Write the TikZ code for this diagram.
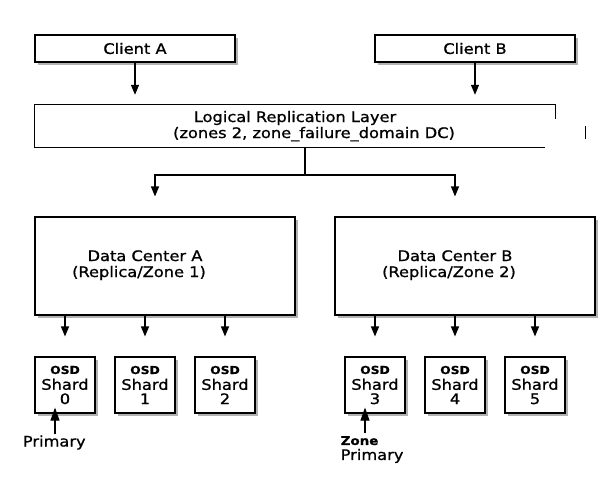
\documentclass[tikz,border=0pt]{standalone}
\usepackage{fontspec}
\setmainfont{DejaVu Sans}[FakeStretch=1.12, FakeBold=1]
\usetikzlibrary{arrows.meta, positioning, calc, shadows}
\newcommand{\tagfont}{\fontsize{11}{11}\selectfont\bfseries}

\begin{document}
\begin{tikzpicture}[
    x=1pt, y=-1pt,
    every node/.style={font=\fontsize{14.5}{16}\selectfont, align=center, inner sep=0pt},
    box/.style={draw, line width=1.1pt, fill=white, drop shadow={shadow xshift=2.5pt, shadow yshift=-2.5pt, fill=black!30, opacity=1}},
    client/.style={box, minimum width=200pt, minimum height=27pt},
    center/.style={box, minimum width=260pt, minimum height=98pt},
    shard/.style={box, minimum width=60pt, minimum height=56pt, font=\fontsize{14.5}{14.3}\selectfont},
    arr/.style={-{Triangle[length=10pt, width=8pt]}, line width=1.1pt},
    uparr/.style={-{Triangle[length=13pt, width=9pt]}, line width=1.1pt},
    line/.style={line width=1.1pt}
]
\useasboundingbox (0,0) rectangle (610,490);

% clients
\node[client] (clienta) at (135,48.5) {Client A};
\node[client] (clientb) at (475,48.5) {Client B};

% replication layer
\node[minimum width=520pt, minimum height=42pt] (layer) at (295,126) {};
\node[anchor=base] (layertitle) at (295,122) {Logical Replication Layer};
\node[anchor=base] (layersub) at (314,138) {(zones 2, zone\_failure\_domain DC)};
\draw[line] ([yshift=-14pt]layer.north east) -- (layer.north east) -- (layer.north west)
    -- (layer.south west) -- ([xshift=-10pt]layer.south east);
\draw[line] ([xshift=30pt, yshift=-21pt]layer.north east) -- ([xshift=30pt, yshift=-34pt]layer.north east);

% data centers
\node[center] (dca) at (165,266) {};
\node[center] (dcb) at (465,266) {};
\node[anchor=base] (dcatitle) at (145,261) {Data Center A};
\node[anchor=base] (dcasub) at (139,277) {(Replica/Zone 1)};
\node[anchor=base] (dcbtitle) at (455,261) {Data Center B};
\node[anchor=base] (dcbsub) at (449,277) {(Replica/Zone 2)};

% shards
\node[shard] (shard0) at (65,385) {{\tagfont OSD}\\[1.5pt]Shard\\0};
\node[shard] (shard1) at (145,385) {{\tagfont OSD}\\[1.5pt]Shard\\1};
\node[shard] (shard2) at (225,385) {{\tagfont OSD}\\[1.5pt]Shard\\2};
\node[shard] (shard3) at (375,385) {{\tagfont OSD}\\[1.5pt]Shard\\3};
\node[shard] (shard4) at (455,385) {{\tagfont OSD}\\[1.5pt]Shard\\4};
\node[shard] (shard5) at (535,385) {{\tagfont OSD}\\[1.5pt]Shard\\5};

% primaries
\node[anchor=base west] (prim) at (22.7,446.5) {Primary};
\node[anchor=north west, align=left, font=\fontsize{14.5}{15}\selectfont] (zoneprim) at (340.5,436) {{\fontsize{12}{12}\selectfont\bfseries Zone}\\Primary};

% connectors
\draw[arr, shorten >=10pt] (clienta) -- (clienta |- layer.north);
\draw[arr, shorten >=10pt] (clientb) -- (clientb |- layer.north);
\coordinate (split) at (305,175);
\draw[line] (layer.south -| split) -- (split);
\draw[arr, shorten >=20pt] (split) -| ([xshift=-10pt]dca.north);
\draw[arr, shorten >=20pt] (split) -| ([xshift=-10pt]dcb.north);
\foreach \s in {shard0, shard1, shard2}
  \draw[arr, shorten >=20pt] (dca.south -| \s) -- (\s);
\foreach \s in {shard3, shard4, shard5}
  \draw[arr, shorten >=20pt] (dcb.south -| \s) -- (\s);
\coordinate (p0) at ([xshift=-10pt]shard0.south);
\coordinate (p3) at ([xshift=-10pt]shard3.south);
\draw[uparr, shorten >=-6pt] (p0 |- 0,434) -- (p0);
\draw[uparr, shorten >=-6pt] (p3 |- 0,433) -- (p3);
\end{tikzpicture}
\end{document}
